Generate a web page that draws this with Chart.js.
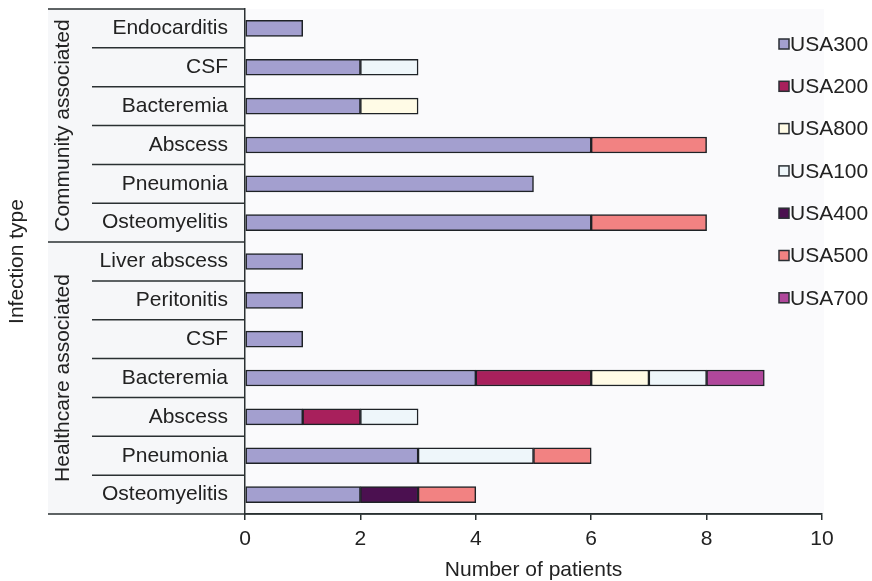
<!DOCTYPE html>
<html>
<head>
<meta charset="utf-8">
<script src="https://cdn.jsdelivr.net/npm/chart.js@4/dist/chart.umd.min.js"></script>
<style>
html,body{margin:0;padding:0;background:#ffffff;}
#wrap{width:872px;height:581px;position:relative;}
</style>
</head>
<body>
<div id="wrap"><canvas id="c" width="872" height="581"></canvas></div>
<script>
const categories = ["Endocarditis","CSF","Bacteremia","Abscess","Pneumonia","Osteomyelitis",
                    "Liver abscess","Peritonitis","CSF","Bacteremia","Abscess","Pneumonia","Osteomyelitis"];
const groups = ["Community associated","Healthcare associated"];
const groupSizes = [6, 7];
const seriesNames = ["USA300","USA200","USA800","USA100","USA400","USA500","USA700"];
const usa300 = [1,2,2,6,5,6, 1,1,1,4,1,3,2];
const usa200 = [0,0,0,0,0,0, 0,0,0,2,1,0,0];
const usa800 = [0,0,1,0,0,0, 0,0,0,1,0,0,0];
const usa100 = [0,1,0,0,0,0, 0,0,0,1,1,2,0];
const usa400 = [0,0,0,0,0,0, 0,0,0,0,0,0,1];
const usa500 = [0,0,0,2,0,2, 0,0,0,0,0,1,1];
const usa700 = [0,0,0,0,0,0, 0,0,0,1,0,0,0];
const xTicks = [0,2,4,6,8,10];
const xTitle = "Number of patients";
const yTitle = "Infection type";

const seriesValues = [usa300,usa200,usa800,usa100,usa400,usa500,usa700];
const seriesColors = ["#a39fcf","#a8205c","#fffbe6","#eef6fa","#4b1050","#f28282","#b0479b"];
const FONT = "Arial, 'Liberation Sans', sans-serif";
const TXT = "#222222";

const datasets = seriesNames.map((n,i)=>({
  label:n,
  data:seriesValues[i].map(v=>v===0?null:v),
  backgroundColor:seriesColors[i],
  borderColor:"#1e2226",
  borderWidth:1.5,
  borderSkipped:false,
  barThickness:16
}));

const decor = {
  id:'decor',
  beforeDraw(chart){
    const {ctx, chartArea:a} = chart;
    ctx.save();
    ctx.fillStyle = "#fafafc";
    ctx.fillRect(a.left, a.top, a.right - a.left + 2, a.bottom - a.top);
    ctx.fillStyle = "#f6f7f9";
    ctx.fillRect(48, a.top, a.left - 48, a.bottom - a.top);
    ctx.restore();
  },
  afterDraw(chart){
    const {ctx, chartArea:a, scales:{y}} = chart;
    ctx.save();
    ctx.strokeStyle = "#2a3032";
    ctx.lineWidth = 1.5;
    const n = categories.length;
    const bounds = [];
    let acc = 0;
    groupSizes.forEach(s=>{acc+=s; bounds.push(acc);});
    for (let i=0;i<n-1;i++){
      const yy = (y.getPixelForValue(i)+y.getPixelForValue(i+1))/2;
      const isGroup = bounds.includes(i+1);
      ctx.beginPath();
      ctx.moveTo(isGroup?48:92, yy);
      ctx.lineTo(a.left, yy);
      ctx.stroke();
    }
    ctx.beginPath(); ctx.moveTo(48, a.top); ctx.lineTo(a.left, a.top); ctx.stroke();
    ctx.beginPath(); ctx.moveTo(48, a.bottom); ctx.lineTo(a.right, a.bottom); ctx.stroke();
    // group labels
    ctx.fillStyle = TXT;
    ctx.font = "21px " + FONT;
    ctx.textAlign = "center";
    ctx.textBaseline = "middle";
    const step = y.getPixelForValue(1)-y.getPixelForValue(0);
    let start = 0;
    groups.forEach((g,gi)=>{
      const end = start + groupSizes[gi] - 1;
      const top = y.getPixelForValue(start) - step/2;
      const bot = y.getPixelForValue(end) + step/2;
      ctx.save();
      ctx.translate(63, (top+bot)/2);
      ctx.rotate(-Math.PI/2);
      ctx.fillText(g, 0, 0);
      ctx.restore();
      start += groupSizes[gi];
    });
    // legend
    ctx.textAlign = "left";
    ctx.textBaseline = "middle";
    chart.data.datasets.forEach((ds,i)=>{
      const cy = 44 + i*42.3;
      ctx.fillStyle = ds.backgroundColor;
      ctx.fillRect(779, cy-5, 10, 10);
      ctx.strokeStyle = "#2a2e33";
      ctx.lineWidth = 1.5;
      ctx.strokeRect(779, cy-5, 10, 10);
      ctx.fillStyle = TXT;
      ctx.fillText(ds.label, 790, cy+1);
    });
    ctx.restore();
  }
};

new Chart(document.getElementById('c'), {
  type:'bar',
  data:{labels:categories, datasets},
  options:{
    indexAxis:'y',
    responsive:false,
    animation:false,
    layout:{padding:{left:0,right:50,top:9,bottom:0}},
    plugins:{legend:{display:false}, tooltip:{enabled:false}},
    scales:{
      x:{
        stacked:true, min:0, max:10,
        afterBuildTicks(s){ s.ticks = xTicks.map(v=>({value:v})); },
        afterFit(s){ s.height = 67; s.paddingTop = 0; s.paddingBottom = 0; },
        grid:{display:true, drawOnChartArea:false, drawTicks:true, tickLength:6, color:"#2a3032", lineWidth:1.5},
        border:{display:true, color:"#2a3032", width:1.5},
        ticks:{color:TXT, font:{size:21, family:FONT}, padding:7, maxRotation:0},
        title:{display:true, text:xTitle, color:TXT, font:{size:21, family:FONT}, padding:{top:0,bottom:-2}}
      },
      y:{
        stacked:true,
        afterFit(s){ s.width = 245; s.paddingTop = 0; s.paddingBottom = 0; },
        grid:{display:false, drawTicks:false},
        border:{display:true, color:"#2a3032", width:1.5},
        ticks:{color:TXT, font:{size:21, family:FONT}, padding:17, autoSkip:false},
        title:{display:true, text:yTitle, color:TXT, font:{size:21, family:FONT}, padding:{top:5,bottom:0}}
      }
    }
  },
  plugins:[decor]
});
</script>
</body>
</html>
